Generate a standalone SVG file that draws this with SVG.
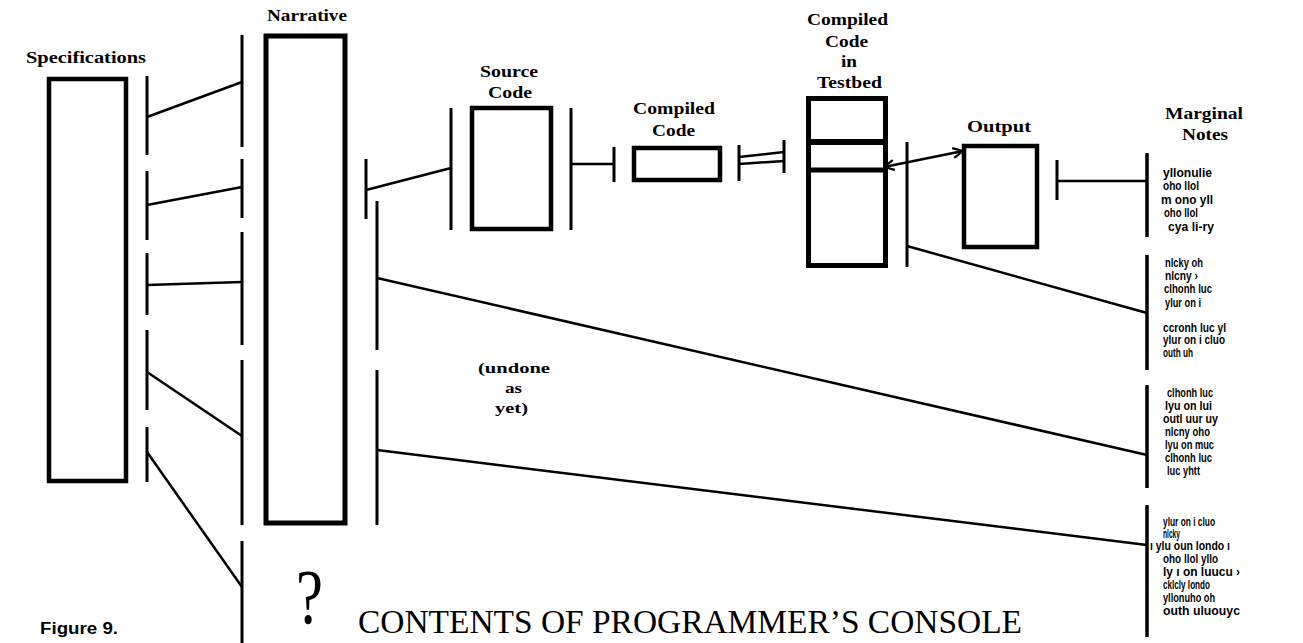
<svg xmlns="http://www.w3.org/2000/svg" width="1303" height="643" viewBox="0 0 1303 643">
<style>
.box{fill:none;stroke:#000;stroke-width:4.5}
.bar{stroke:#000;stroke-width:3;fill:none}
.ln{stroke:#000;stroke-width:2.5;fill:none}
.lbl{font-family:"Liberation Serif","DejaVu Serif",serif;font-weight:bold;font-size:16px;text-anchor:start;fill:#000}
.note{font-family:"Liberation Sans","DejaVu Sans",sans-serif;font-weight:bold;font-size:12.5px;fill:#000}
.title{font-family:"Liberation Serif","DejaVu Serif",serif;font-size:33px;fill:#000}
.fig{font-family:"Liberation Sans","DejaVu Sans",sans-serif;font-weight:bold;font-size:16px;fill:#000}
</style>
<defs>
<marker id="open" viewBox="0 0 12 12" refX="11" refY="6" markerWidth="12" markerHeight="12" markerUnits="userSpaceOnUse" orient="auto-start-reverse">
<path d="M1,1 L11,6 L1,11" fill="none" stroke="#000" stroke-width="2.2"/>
</marker>
</defs>
<rect width="1303" height="643" fill="#fff"/>

<g id="specifications">
<rect class="box" x="49" y="79" width="77" height="402"/>
<text class="lbl" x="26" y="63" textLength="120" lengthAdjust="spacingAndGlyphs">Specifications</text>
</g>

<g id="narrative">
<rect class="box" x="266" y="36" width="79" height="487" style="stroke-width:5"/>
<text class="lbl" x="267" y="21" textLength="80" lengthAdjust="spacingAndGlyphs">Narrative</text>
</g>

<g id="source-code">
<rect class="box" x="472" y="108" width="79" height="121"/>
<text class="lbl" x="480" y="77" textLength="58" lengthAdjust="spacingAndGlyphs">Source</text>
<text class="lbl" x="488" y="98" textLength="44" lengthAdjust="spacingAndGlyphs">Code</text>
</g>

<g id="compiled-code">
<rect class="box" x="634" y="148" width="86" height="32"/>
<text class="lbl" x="633" y="114" textLength="82" lengthAdjust="spacingAndGlyphs">Compiled</text>
<text class="lbl" x="652" y="136" textLength="43" lengthAdjust="spacingAndGlyphs">Code</text>
</g>

<g id="testbed">
<rect class="box" x="808.5" y="98.5" width="77" height="167" style="stroke-width:5"/>
<line class="bar" x1="808" y1="142" x2="887" y2="142" style="stroke-width:6"/>
<line class="bar" x1="808" y1="170" x2="884" y2="170" style="stroke-width:5"/>
<text class="lbl" x="807" y="25" textLength="81" lengthAdjust="spacingAndGlyphs">Compiled</text>
<text class="lbl" x="825" y="47" textLength="43" lengthAdjust="spacingAndGlyphs">Code</text>
<text class="lbl" x="841" y="67" textLength="16" lengthAdjust="spacingAndGlyphs">in</text>
<text class="lbl" x="817" y="88" textLength="65" lengthAdjust="spacingAndGlyphs">Testbed</text>
</g>

<g id="output">
<rect class="box" x="964" y="146" width="73" height="101"/>
<text class="lbl" x="967" y="132" textLength="64" lengthAdjust="spacingAndGlyphs">Output</text>
</g>

<g id="marginal-notes">
<text class="lbl" x="1165" y="119" textLength="78" lengthAdjust="spacingAndGlyphs">Marginal</text>
<text class="lbl" x="1182" y="140" textLength="46" lengthAdjust="spacingAndGlyphs">Notes</text>
<text class="note" x="1163" y="177" textLength="49" lengthAdjust="spacingAndGlyphs">yllonulie</text>
<text class="note" x="1163" y="190" textLength="36" lengthAdjust="spacingAndGlyphs">oho llol</text>
<text class="note" x="1161" y="204" textLength="52" lengthAdjust="spacingAndGlyphs">m ono yll</text>
<text class="note" x="1164" y="217" textLength="34" lengthAdjust="spacingAndGlyphs">oho llol</text>
<text class="note" x="1168" y="231" textLength="46" lengthAdjust="spacingAndGlyphs">cya li-ry</text>
<text class="note" x="1165" y="267" textLength="38" lengthAdjust="spacingAndGlyphs">nlcky oh</text>
<text class="note" x="1165" y="280" textLength="33" lengthAdjust="spacingAndGlyphs">nlcny ›</text>
<text class="note" x="1164" y="293" textLength="48" lengthAdjust="spacingAndGlyphs">clhonh luc</text>
<text class="note" x="1165" y="307" textLength="36" lengthAdjust="spacingAndGlyphs">ylur on i</text>
<text class="note" x="1163" y="332" textLength="63" lengthAdjust="spacingAndGlyphs">ccronh luc yl</text>
<text class="note" x="1163" y="344" textLength="62" lengthAdjust="spacingAndGlyphs">ylur on i cluo</text>
<text class="note" x="1163" y="357" textLength="30" lengthAdjust="spacingAndGlyphs">outh uh</text>
<text class="note" x="1167" y="397" textLength="46" lengthAdjust="spacingAndGlyphs">clhonh luc</text>
<text class="note" x="1165" y="410" textLength="47" lengthAdjust="spacingAndGlyphs">lyu on lui</text>
<text class="note" x="1163" y="423" textLength="55" lengthAdjust="spacingAndGlyphs">outl uur uy</text>
<text class="note" x="1165" y="436" textLength="45" lengthAdjust="spacingAndGlyphs">nlcny oho</text>
<text class="note" x="1165" y="449" textLength="49" lengthAdjust="spacingAndGlyphs">lyu on muc</text>
<text class="note" x="1165" y="462" textLength="47" lengthAdjust="spacingAndGlyphs">clhonh luc</text>
<text class="note" x="1167" y="475" textLength="33" lengthAdjust="spacingAndGlyphs">luc yhtt</text>
<text class="note" x="1163" y="526" textLength="52" lengthAdjust="spacingAndGlyphs">ylur on i cluo</text>
<text class="note" x="1163" y="538" textLength="17" lengthAdjust="spacingAndGlyphs">nlcky</text>
<text class="note" x="1150" y="550" textLength="80" lengthAdjust="spacingAndGlyphs">ı ylu oun londo ı</text>
<text class="note" x="1163" y="563" textLength="55" lengthAdjust="spacingAndGlyphs">oho llol yllo</text>
<text class="note" x="1163" y="576" textLength="77" lengthAdjust="spacingAndGlyphs">ly ı on luucu ›</text>
<text class="note" x="1163" y="589" textLength="47" lengthAdjust="spacingAndGlyphs">cklcly londo</text>
<text class="note" x="1163" y="602" textLength="52" lengthAdjust="spacingAndGlyphs">yllonuho oh</text>
<text class="note" x="1163" y="615" textLength="77" lengthAdjust="spacingAndGlyphs">outh uluouyc</text>
</g>

<g id="undone">
<text class="lbl" x="478" y="373" textLength="72" lengthAdjust="spacingAndGlyphs" style="font-size:15px">(undone</text>
<text class="lbl" x="505" y="393" textLength="17" lengthAdjust="spacingAndGlyphs" style="font-size:15px">as</text>
<text class="lbl" x="495" y="413" textLength="33" lengthAdjust="spacingAndGlyphs" style="font-size:15px">yet)</text>
</g>

<g id="captions">
<text x="296" y="623" style="font-family:'Liberation Serif','DejaVu Serif',serif;font-size:78px" textLength="27" lengthAdjust="spacingAndGlyphs">?</text>
<text class="title" x="358" y="633" textLength="664" lengthAdjust="spacingAndGlyphs">CONTENTS OF PROGRAMMER’S CONSOLE</text>
<text class="fig" x="40" y="634" textLength="78" lengthAdjust="spacingAndGlyphs">Figure 9.</text>
</g>

<g id="connectors">
<path class="bar" d="M147,76V155M147,171V240M147,253V315M147,330V410M147,427V482"/>
<path class="bar" d="M242,35V147M242,159V218M242,232V345M242,360V525M242,541V643"/>
<path class="bar" d="M366,159V219"/>
<path class="bar" d="M377,201V350M377,370V525"/>
<path class="bar" d="M451,108V230M571,108V230"/>
<path class="bar" d="M614,147V182M739,145V181M784,140V173"/>
<path class="bar" d="M907,142V267M1057,160V200"/>
<path class="bar" d="M1147,153V237M1147,255V370M1147,385V488M1147,505V637" style="stroke-width:3.5"/>
<line class="ln" x1="147" y1="117" x2="242" y2="82"/>
<line class="ln" x1="147" y1="205" x2="242" y2="187"/>
<line class="ln" x1="147" y1="285" x2="242" y2="282"/>
<line class="ln" x1="147" y1="372" x2="242" y2="436"/>
<line class="ln" x1="147" y1="452" x2="242" y2="587"/>
<line class="ln" x1="366" y1="190" x2="451" y2="168"/>
<line class="ln" x1="377" y1="278" x2="1147" y2="455"/>
<line class="ln" x1="377" y1="450" x2="1147" y2="545"/>
<line class="ln" x1="571" y1="164" x2="614" y2="164"/>
<line class="ln" x1="739" y1="157" x2="784" y2="152"/>
<line class="ln" x1="739" y1="164" x2="784" y2="161"/>
<line class="ln" x1="907" y1="246" x2="1147" y2="313"/>
<line class="ln" x1="1057" y1="181" x2="1147" y2="181"/>
<line class="ln" x1="884" y1="167" x2="963" y2="151" marker-start="url(#open)" marker-end="url(#open)"/>
</g>
</svg>
